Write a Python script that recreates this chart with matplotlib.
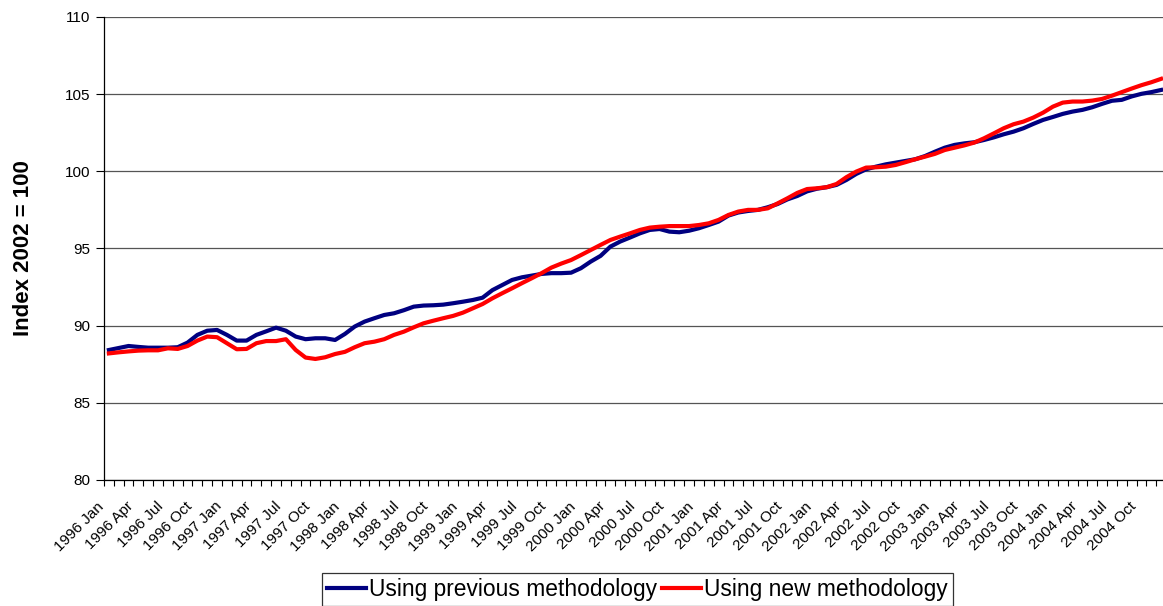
import matplotlib.pyplot as plt
import matplotlib.transforms as mtransforms
from matplotlib.ticker import FixedLocator, MultipleLocator
import numpy as np

plt.rcParams['font.family'] = ['Liberation Sans', 'DejaVu Sans']

# === Daten (monatlich, 1996 Jan - 2004 Dec) ===
years = list(range(1996, 2005))
months = ["Jan", "Feb", "Mar", "Apr", "May", "Jun",
          "Jul", "Aug", "Sep", "Oct", "Nov", "Dec"]
periods = [f"{y} {m}" for y in years for m in months]

previous = [
    88.42, 88.55, 88.68, 88.62, 88.57, 88.57, 88.57, 88.60, 88.90, 89.40, 89.67, 89.72,
    89.40, 89.03, 89.03, 89.40, 89.63, 89.87, 89.67, 89.29, 89.12, 89.18, 89.18, 89.07,
    89.46, 89.94, 90.26, 90.48, 90.69, 90.80, 91.00, 91.23, 91.30, 91.32, 91.36, 91.45,
    91.55, 91.66, 91.81, 92.30, 92.63, 92.96, 93.13, 93.24, 93.35, 93.40, 93.40, 93.43,
    93.72, 94.15, 94.52, 95.12, 95.45, 95.71, 95.98, 96.20, 96.26, 96.09, 96.05, 96.15,
    96.31, 96.52, 96.74, 97.13, 97.33, 97.43, 97.50, 97.67, 97.88, 98.18, 98.40, 98.70,
    98.87, 98.97, 99.12, 99.44, 99.83, 100.13, 100.30, 100.45, 100.56, 100.67, 100.78, 100.99,
    101.27, 101.53, 101.71, 101.81, 101.88, 102.03, 102.20, 102.40, 102.57, 102.79, 103.07, 103.33,
    103.52, 103.72, 103.87, 103.98, 104.15, 104.37, 104.57, 104.63, 104.85, 105.02, 105.13, 105.27,
]
new = [
    88.20, 88.27, 88.33, 88.38, 88.40, 88.40, 88.53, 88.49, 88.68, 89.03, 89.29, 89.25,
    88.86, 88.47, 88.49, 88.86, 89.00, 89.00, 89.12, 88.42, 87.93, 87.84, 87.95, 88.16,
    88.30, 88.60, 88.86, 88.96, 89.12, 89.40, 89.61, 89.89, 90.15, 90.32, 90.48, 90.63,
    90.84, 91.12, 91.40, 91.77, 92.10, 92.42, 92.75, 93.07, 93.40, 93.76, 94.02, 94.25,
    94.57, 94.90, 95.23, 95.55, 95.77, 95.98, 96.20, 96.35, 96.41, 96.45, 96.45, 96.45,
    96.52, 96.63, 96.85, 97.17, 97.39, 97.50, 97.50, 97.60, 97.92, 98.25, 98.60, 98.85,
    98.90, 98.97, 99.18, 99.62, 99.98, 100.24, 100.26, 100.30, 100.41, 100.59, 100.78, 100.95,
    101.13, 101.38, 101.53, 101.68, 101.86, 102.14, 102.46, 102.79, 103.05, 103.22, 103.48, 103.80,
    104.19, 104.45, 104.52, 104.52, 104.58, 104.69, 104.90, 105.13, 105.36, 105.58, 105.77, 105.99,
]

x = np.arange(len(periods))

fig = plt.figure(figsize=(11.63, 6.06), dpi=100)
# Zeichenfläche reicht minimal über den rechten Bildrand hinaus (wie im Original)
ax = fig.add_axes([0.0894, 0.208, 0.9132, 0.764])

ax.plot(x, previous, color="#000080", lw=3.0, label="Using previous methodology")
ax.plot(x, new, color="#ff0000", lw=3.0, label="Using new methodology")

# --- Achsen ---
ax.set_xlim(-0.5, len(periods) - 0.5)
ax.set_ylim(80, 110)
ax.yaxis.set_major_locator(MultipleLocator(5))
ax.grid(True, axis="y", color="#555555", lw=0.9)
ax.set_axisbelow(True)

label_pos = x[::3]
ax.xaxis.set_major_locator(FixedLocator(label_pos))
ax.xaxis.set_minor_locator(FixedLocator(np.arange(-0.5, len(periods), 1)))
ax.tick_params(axis="x", which="major", length=0, pad=6)
ax.tick_params(axis="x", which="minor", length=4, width=0.8, direction="out")
ax.tick_params(axis="y", length=6, width=0.8, labelsize=11, pad=4)

ax.set_xticklabels([periods[i] for i in label_pos], rotation=45,
                   ha="right", va="top", rotation_mode="anchor", fontsize=11)
# Beschriftung wie in Excel etwas nach links unten versetzt
shift = mtransforms.ScaledTranslation(-12 / 100, -11 / 100, fig.dpi_scale_trans)
for lbl in ax.get_xticklabels():
    lbl.set_transform(lbl.get_transform() + shift)

for s in ["top", "right"]:
    ax.spines[s].set_visible(False)
ax.spines["left"].set_linewidth(0.9)
ax.spines["bottom"].set_linewidth(0.9)

ax.set_ylabel("Index 2002 = 100", fontsize=16, fontweight="bold")
ax.yaxis.set_label_coords(-0.066, 0.5)

leg = fig.legend(loc="center", bbox_to_anchor=(0.548, 0.028), ncol=2,
                 fontsize=16.4, frameon=True, fancybox=False, edgecolor="black",
                 handlelength=1.7, handletextpad=0.15, columnspacing=0.2,
                 borderpad=0.22, borderaxespad=0)
leg.get_frame().set_linewidth(0.9)

fig.savefig("out.png", dpi=100)
